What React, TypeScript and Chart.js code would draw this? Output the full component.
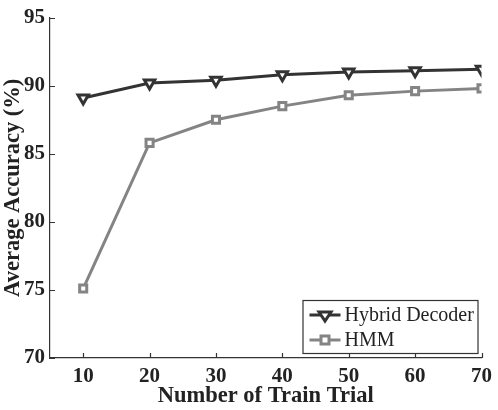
import React, { useEffect, useRef } from "react";
import { Chart, registerables } from "chart.js";

Chart.register(...registerables);

const trainTrials = [10, 20, 30, 40, 50, 60, 70];
const hybridDecoder = [89.1, 90.2, 90.4, 90.8, 91.0, 91.1, 91.2];
const hmm = [75.1, 85.8, 87.5, 88.5, 89.3, 89.6, 89.8];
const xTicks = [10, 20, 30, 40, 50, 60, 70];
const yTicks = [70, 75, 80, 85, 90, 95];

const SERIF = "'Liberation Serif', 'Times New Roman', serif";

// Inward tick marks on the left and bottom axes
const innerTicks = {
  id: "innerTicks",
  afterDraw(chart: any) {
    const { ctx, chartArea, scales } = chart;
    ctx.save();
    ctx.strokeStyle = "#333";
    ctx.lineWidth = 1.2;
    ctx.beginPath();
    for (const v of xTicks) {
      const x = Math.round(scales.x.getPixelForValue(v)) + 0.5;
      ctx.moveTo(x, chartArea.bottom);
      ctx.lineTo(x, chartArea.bottom - 5);
    }
    for (const v of yTicks) {
      const y = Math.round(scales.y.getPixelForValue(v)) + 0.5;
      ctx.moveTo(chartArea.left, y);
      ctx.lineTo(chartArea.left + 5, y);
    }
    ctx.stroke();
    ctx.restore();
  },
};

// Boxed legend in the lower-right corner of the plot
const boxLegend = {
  id: "boxLegend",
  afterDraw(chart: any) {
    const { ctx, chartArea } = chart;
    const w = 175;
    const h = 53;
    const x0 = chartArea.right - w - 4;
    const y0 = chartArea.bottom - h - 5;
    ctx.save();
    ctx.fillStyle = "#fff";
    ctx.fillRect(x0, y0, w, h);
    ctx.strokeStyle = "#333";
    ctx.lineWidth = 1.2;
    ctx.strokeRect(x0 + 0.5, y0 + 0.5, w, h);
    chart.data.datasets.forEach((ds: any, i: number) => {
      const cy = y0 + 15 + i * 25;
      const lx0 = x0 + 7;
      const lx1 = x0 + 38;
      ctx.strokeStyle = ds.borderColor;
      ctx.lineWidth = 3;
      ctx.beginPath();
      ctx.moveTo(lx0, cy);
      ctx.lineTo(lx1, cy);
      ctx.stroke();
      const cx = (lx0 + lx1) / 2;
      ctx.lineWidth = 3;
      ctx.fillStyle = "#fff";
      ctx.beginPath();
      if (ds.pointStyle === "triangle") {
        ctx.moveTo(cx - 6, cy - 3);
        ctx.lineTo(cx + 6, cy - 3);
        ctx.lineTo(cx, cy + 6);
        ctx.closePath();
      } else {
        ctx.rect(cx - 4, cy - 4, 8, 8);
      }
      ctx.fill();
      ctx.stroke();
      ctx.fillStyle = "#222";
      ctx.font = `20px ${SERIF}`;
      ctx.textBaseline = "middle";
      ctx.textAlign = "left";
      ctx.fillText(ds.label, x0 + 42, cy + 1);
    });
    ctx.restore();
  },
};

export default function App() {
  const ref = useRef<HTMLCanvasElement>(null);

  useEffect(() => {
    const chart = new Chart(ref.current!, {
      type: "line",
      data: {
        datasets: [
          {
            label: "Hybrid Decoder",
            data: trainTrials.map((x, i) => ({ x, y: hybridDecoder[i] })),
            borderColor: "#333333",
            backgroundColor: "#fff",
            borderWidth: 3,
            pointStyle: "triangle",
            rotation: 180,
            pointRadius: 6,
            pointBorderWidth: 3,
            pointBackgroundColor: "#fff",
            pointBorderColor: "#333333",
          },
          {
            label: "HMM",
            data: trainTrials.map((x, i) => ({ x, y: hmm[i] })),
            borderColor: "#848484",
            backgroundColor: "#fff",
            borderWidth: 3,
            pointStyle: "rect",
            pointRadius: 5,
            pointBorderWidth: 3,
            pointBackgroundColor: "#fff",
            pointBorderColor: "#848484",
          },
        ],
      },
      options: {
        responsive: false,
        animation: false,
        layout: { padding: { top: 10, right: 14, left: 0, bottom: 0 } },
        plugins: { legend: { display: false }, tooltip: { enabled: false } },
        scales: {
          x: {
            type: "linear",
            min: 5,
            max: 70,
            afterFit(s: any) {
              s.height = 52;
            },
            afterBuildTicks(s: any) {
              s.ticks = xTicks.map((v) => ({ value: v }));
            },
            grid: { drawOnChartArea: false, drawTicks: false },
            border: { color: "#333", width: 1.2 },
            ticks: {
              padding: 6,
              color: "#222",
              font: { family: SERIF, size: 21, weight: "bold" },
            },
            title: {
              display: true,
              text: "Number of Train Trial",
              color: "#222",
              font: { family: SERIF, size: 22.5, weight: "bold" },
              padding: { top: 0, bottom: 0 },
            },
          },
          y: {
            type: "linear",
            min: 70,
            max: 95,
            afterFit(s: any) {
              s.width = 50;
            },
            afterBuildTicks(s: any) {
              s.ticks = yTicks.map((v) => ({ value: v }));
            },
            grid: { drawOnChartArea: false, drawTicks: false },
            border: { color: "#333", width: 1.2 },
            ticks: {
              padding: 5,
              color: "#222",
              font: { family: SERIF, size: 21, weight: "bold" },
            },
            title: {
              display: true,
              text: "Average Accuracy (%)",
              color: "#222",
              font: { family: SERIF, size: 22.5, weight: "bold" },
              padding: { top: 0, bottom: 0 },
            },
          },
        },
      },
      plugins: [innerTicks, boxLegend],
    });
    return () => chart.destroy();
  }, []);

  return (
    <div style={{ position: "fixed", left: 0, top: 0, width: 498, height: 410, background: "#fff" }}>
      <canvas ref={ref} width={498} height={410} />
    </div>
  );
}
